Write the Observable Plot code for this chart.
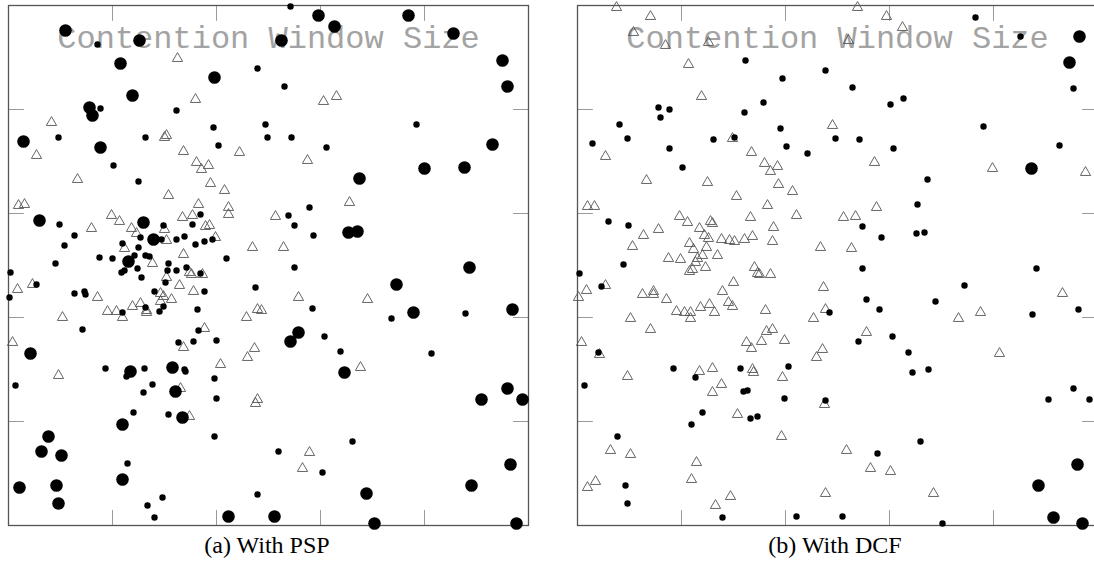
<!DOCTYPE html>
<html><head><meta charset="utf-8">
<script src="https://cdn.jsdelivr.net/npm/d3@7"></script>
<script src="https://cdn.jsdelivr.net/npm/@observablehq/plot@0.6"></script>
<style>
html,body{margin:0;padding:0;background:#fff;overflow:hidden;width:1094px;height:565px}
#wrap{position:relative;width:1094px;height:565px;overflow:hidden}
.panel{position:absolute;top:0}
.cap{position:absolute;top:531px;width:300px;text-align:center;font-family:"Liberation Serif","Times New Roman",serif;font-size:24px;color:#000;line-height:28px;white-space:nowrap}
</style></head><body>
<div id="wrap"></div>
<script>
// Field coordinates (node positions), both panels share the same field
const fieldDomain = [0, 520];
const tickValues = [104, 208, 312, 416];
const titleText = ["Contention Window Size"];
const captions = ["(a) With PSP", "(b) With DCF"];

// (a) With PSP — large contention window (big dots), medium (small dots), small (triangles)
const pspLarge = [[57,495],[131,485],[112,462],[206,448],[124,430],[81,418],[84,410],[15,384],[92,378],[31,305],[135,303],[145,286],[120,264],[22,172],[122,154],[164,158],[167,134],[174,108],[114,101],[40,89],[33,74],[53,70],[114,46],[11,38],[48,40],[50,22],[220,9],[310,510],[400,510],[326,499],[445,492],[273,485],[494,465],[499,439],[484,381],[416,357],[456,358],[351,347],[340,293],[349,294],[461,258],[388,241],[405,213],[504,216],[290,193],[282,184],[336,153],[499,137],[473,126],[514,126],[502,61],[463,40],[358,32],[266,9],[366,2],[508,2]];
const pspSmall = [[89,481],[249,457],[92,417],[168,415],[205,398],[257,401],[259,388],[50,388],[137,388],[210,380],[105,360],[130,344],[51,301],[192,311],[155,300],[184,301],[66,290],[132,288],[153,286],[168,286],[176,289],[204,286],[196,284],[187,281],[56,280],[114,282],[130,278],[126,270],[137,270],[141,269],[91,268],[104,267],[47,262],[160,262],[218,267],[178,258],[2,253],[113,253],[116,255],[129,257],[159,255],[168,255],[192,252],[28,241],[133,248],[157,243],[66,232],[76,234],[77,231],[146,234],[196,234],[247,238],[1,228],[114,213],[137,218],[155,219],[151,214],[189,216],[190,195],[74,196],[170,183],[185,184],[208,185],[97,157],[118,149],[136,157],[176,156],[177,154],[7,140],[206,147],[144,141],[135,133],[208,127],[125,113],[160,111],[206,89],[119,62],[154,28],[139,20],[146,8],[249,31],[282,519],[276,439],[283,388],[408,401],[318,378],[301,318],[280,310],[286,300],[305,290],[286,258],[304,217],[383,207],[457,212],[316,189],[332,174],[423,172],[270,74],[314,53],[344,84]];
const pspTri = [[169,467],[187,426],[43,403],[156,388],[158,390],[28,370],[175,374],[231,373],[188,363],[200,360],[193,356],[69,346],[202,342],[216,335],[160,330],[10,320],[16,321],[190,321],[220,318],[220,311],[103,310],[111,304],[174,308],[184,310],[83,297],[156,296],[197,299],[201,300],[123,297],[128,292],[158,285],[207,288],[244,278],[116,277],[175,271],[144,262],[158,248],[181,253],[183,251],[194,251],[24,241],[9,236],[171,240],[89,228],[152,232],[155,229],[163,226],[185,234],[99,214],[108,214],[114,208],[124,219],[132,222],[138,215],[138,213],[152,224],[54,208],[238,208],[249,216],[253,215],[196,197],[4,183],[175,178],[246,177],[239,168],[212,161],[50,150],[172,137],[249,126],[247,122],[181,109],[315,424],[328,429],[299,365],[341,323],[267,309],[275,278],[290,228],[359,226],[352,158],[301,73],[294,57]];

// (b) With DCF
const dcfLarge = [[502,489],[492,463],[454,357],[500,61],[461,40],[476,8],[505,2]];
const dcfSmall = [[168,465],[248,455],[205,447],[186,423],[81,418],[92,416],[83,408],[167,413],[42,401],[203,397],[15,382],[50,387],[136,386],[157,388],[209,379],[92,377],[230,372],[105,358],[31,304],[51,300],[46,261],[2,252],[24,239],[252,213],[21,173],[96,157],[118,148],[163,157],[211,159],[7,140],[166,134],[170,135],[207,127],[248,125],[125,113],[173,107],[180,109],[114,101],[40,89],[48,40],[50,22],[145,8],[219,9],[398,508],[443,489],[496,437],[275,438],[313,421],[326,427],[258,387],[282,386],[316,377],[406,399],[482,380],[350,346],[340,321],[285,299],[304,288],[339,292],[347,293],[285,257],[459,257],[387,240],[289,226],[302,216],[358,224],[455,211],[501,216],[281,184],[315,189],[331,173],[335,153],[351,156],[496,137],[471,126],[512,126],[343,84],[300,72],[265,9],[365,2]];
const dcfTri = [[39,518],[73,509],[56,493],[88,480],[131,483],[111,461],[124,429],[255,400],[155,387],[28,369],[174,373],[187,362],[200,359],[193,354],[69,345],[130,343],[201,341],[215,334],[159,329],[10,319],[17,319],[190,320],[219,310],[102,309],[110,303],[133,304],[135,302],[173,308],[81,296],[122,297],[66,290],[196,298],[127,290],[131,287],[144,286],[152,285],[157,284],[167,286],[175,289],[195,284],[243,278],[55,279],[112,282],[116,276],[129,278],[125,270],[120,267],[118,263],[140,270],[91,267],[103,266],[128,258],[177,258],[112,254],[115,256],[180,252],[182,251],[193,251],[156,243],[28,240],[9,235],[1,228],[65,231],[76,234],[76,231],[89,226],[145,234],[151,223],[155,219],[246,238],[123,218],[132,221],[137,213],[99,214],[107,213],[113,213],[113,207],[53,207],[188,215],[248,216],[236,207],[73,196],[189,194],[195,196],[4,183],[169,183],[174,177],[184,184],[207,185],[245,176],[239,168],[22,171],[122,154],[135,157],[175,156],[176,153],[205,148],[50,149],[144,141],[135,133],[247,121],[160,111],[204,89],[33,75],[53,71],[119,63],[114,46],[10,38],[18,44],[153,29],[138,20],[248,32],[280,518],[309,509],[325,498],[271,485],[297,363],[415,357],[508,353],[299,318],[266,308],[278,309],[274,277],[485,232],[381,207],[403,213],[289,193],[422,172],[269,75],[293,57],[313,54],[356,32]];

const tickShape = {draw(context, l) { context.moveTo(0, 0); context.lineTo(0, -l); }};
const tickStyle = {length: 15, anchor: "start", shape: tickShape, stroke: "#9a9a9a", strokeWidth: 1};

function panel(large, small, tri, left, width, marginRight) {
  const svg = Plot.plot({
    width, height: 530,
    marginLeft: 8, marginTop: 5, marginRight, marginBottom: 5,
    x: {domain: fieldDomain, axis: null},
    y: {domain: fieldDomain, axis: null},
    style: {background: "transparent"},
    marks: [
      Plot.vector(tickValues, {x: d => d, frameAnchor: "bottom", rotate: 0, ...tickStyle}),
      Plot.vector(tickValues, {x: d => d, frameAnchor: "top", rotate: 180, ...tickStyle}),
      Plot.vector(tickValues, {y: d => d, frameAnchor: "left", rotate: 90, ...tickStyle}),
      Plot.vector(tickValues, {y: d => d, frameAnchor: "right", rotate: 270, ...tickStyle}),
      Plot.frame({stroke: "#555", strokeWidth: 1.3}),
      Plot.text(titleText, {text: d => d, frameAnchor: "top", lineAnchor: "top", dy: 20,
        fontFamily: "'Liberation Mono', 'DejaVu Sans Mono', monospace", fontSize: 32, fill: "#a3a3a3"}),
      Plot.dot(tri, {x: d => d[0], y: d => d[1], symbol: "triangle", r: 3.8, stroke: "#555", strokeWidth: 0.9, fill: "none"}),
      Plot.dot(small, {x: d => d[0], y: d => d[1], r: 3.2, fill: "#000"}),
      Plot.dot(large, {x: d => d[0], y: d => d[1], r: 6.3, fill: "#000"})
    ]
  });
  svg.classList.add("panel");
  svg.style.left = left + "px";
  return svg;
}

const wrap = document.getElementById("wrap");
wrap.appendChild(panel(pspLarge, pspSmall, pspTri, 0, 536, 8));
wrap.appendChild(panel(dcfLarge, dcfSmall, dcfTri, 569, 528, 0));
[[captions[0], 117], [captions[1], 685]].forEach(([t, l]) => {
  const d = document.createElement("div");
  d.className = "cap";
  d.style.left = l + "px";
  d.textContent = t;
  wrap.appendChild(d);
});
</script>
</body></html>
